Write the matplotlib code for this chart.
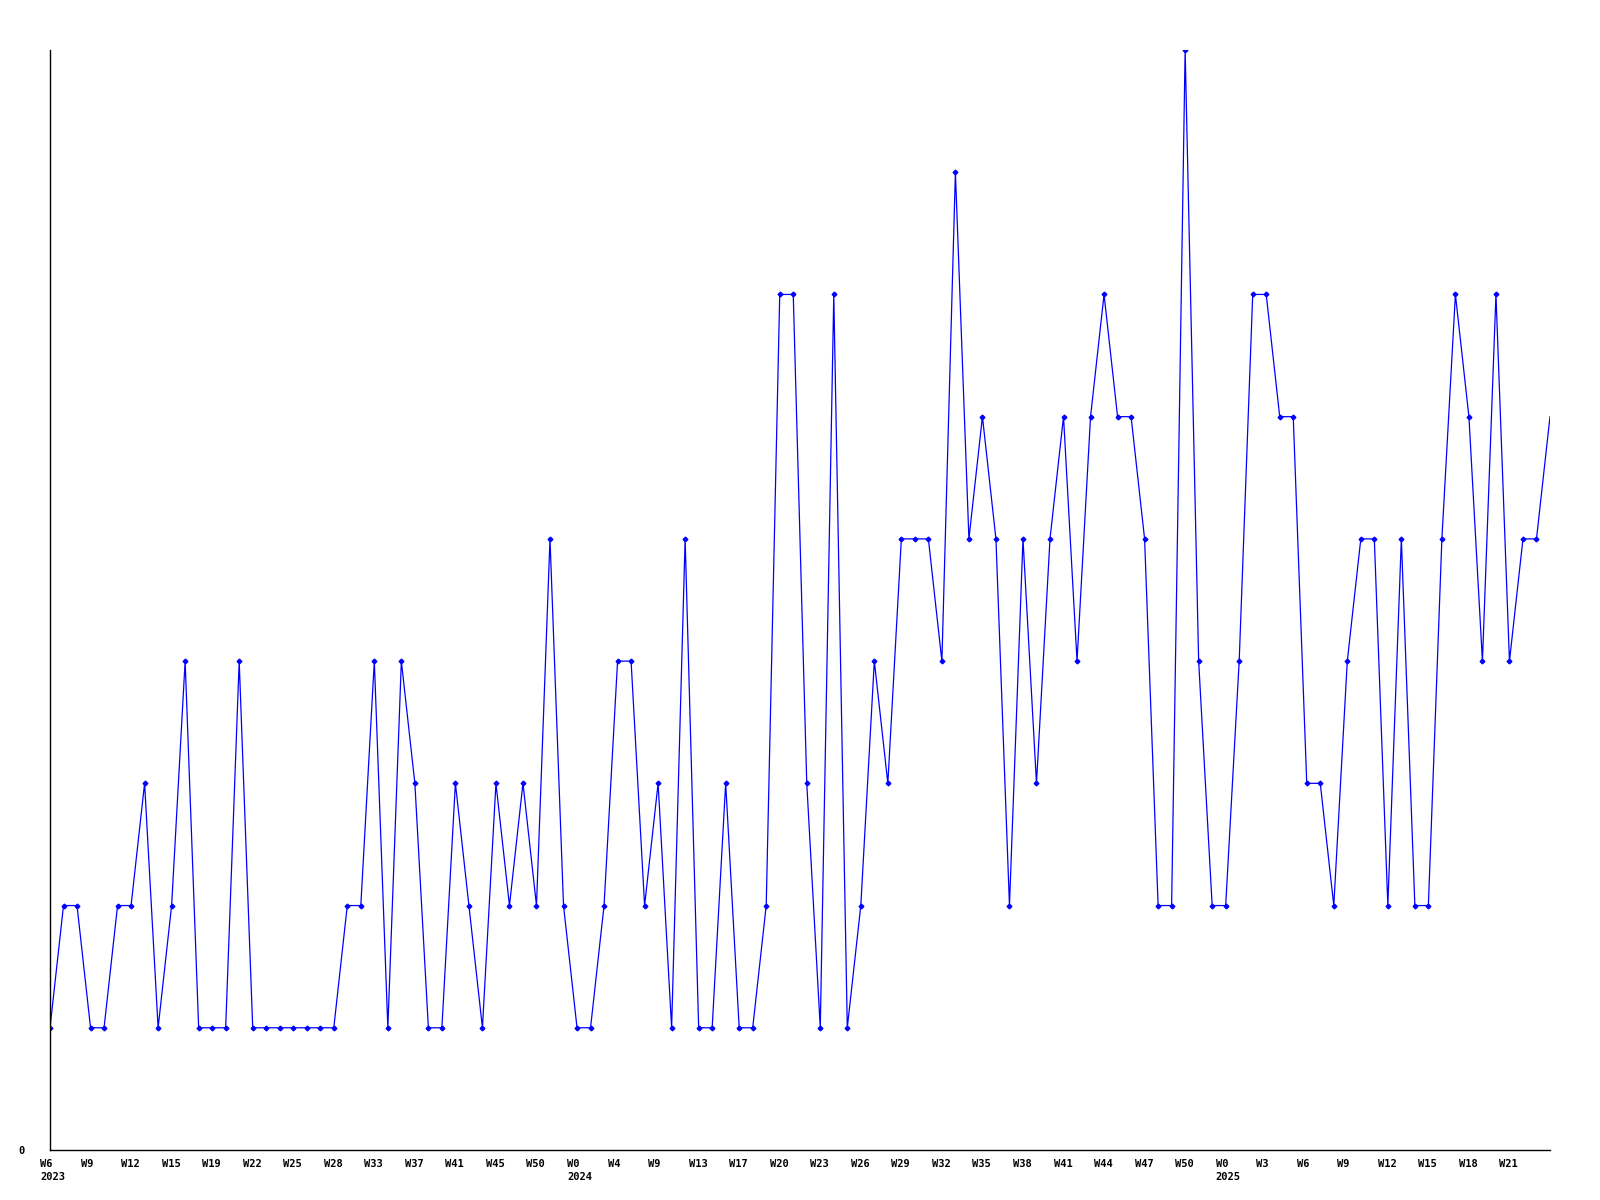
import matplotlib
matplotlib.use("Agg")
import matplotlib.pyplot as plt
from matplotlib.transforms import ScaledTranslation

# weekly counts (one value per plotted period)
values = [1, 2, 2, 1, 1, 2, 2, 3, 1, 2, 4, 1, 1, 1, 4, 1, 1, 1, 1, 1,
          1, 1, 2, 2, 4, 1, 4, 3, 1, 1, 3, 2, 1, 3, 2, 3, 2, 5, 2, 1,
          1, 2, 4, 4, 2, 3, 1, 5, 1, 1, 3, 1, 1, 2, 7, 7, 3, 1, 7, 1,
          2, 4, 3, 5, 5, 5, 4, 8, 5, 6, 5, 2, 5, 3, 5, 6, 4, 6, 7, 6,
          6, 5, 2, 2, 9, 4, 2, 2, 4, 7, 7, 6, 6, 3, 3, 2, 4, 5, 5, 2,
          5, 2, 2, 5, 7, 6, 4, 7, 4, 5, 5, 6]

# tick labels, one every 3 periods
tick_weeks = ["W6", "W9", "W12", "W15", "W19", "W22", "W25", "W28", "W33", "W37",
              "W41", "W45", "W50",
              "W0", "W4", "W9", "W13", "W17", "W20", "W23", "W26", "W29", "W32",
              "W35", "W38", "W41", "W44", "W47", "W50",
              "W0", "W3", "W6", "W9", "W12", "W15", "W18", "W21"]
tick_years = {0: "2023", 13: "2024", 29: "2025"}
tick_step = 3

fig = plt.figure(figsize=(16, 12), dpi=100)
ax = fig.add_axes([50/1600, 1 - 1150/1200, 1500/1600, 1100/1200])

x = list(range(len(values)))
ax.plot(x, values, color=(0, 0, 1), linewidth=0.9, marker="D", markersize=2.4,
        markevery=slice(0, len(values) - 1))

ax.set_xlim(0, len(values) - 1)
ax.set_ylim(0, 9)

for s in ["top", "right"]:
    ax.spines[s].set_visible(False)
for s in ["left", "bottom"]:
    ax.spines[s].set_color("black")
    ax.spines[s].set_linewidth(1.0)

font = dict(family="DejaVu Sans Mono", weight="bold", size=7.5)

ax.set_yticks([0])
ax.set_yticklabels(["0"], **font)
ax.tick_params(axis="y", length=0, pad=18)

pos = [i * tick_step for i in range(len(tick_weeks))]
labels = []
for i, w in enumerate(tick_weeks):
    if i in tick_years:
        labels.append(w + "\n" + tick_years[i])
    else:
        labels.append(w)
ax.set_xticks(pos)
ax.set_xticklabels(labels, ha="left", va="top", linespacing=1.35, **font)
ax.tick_params(axis="x", length=0, pad=6.5)
off = ScaledTranslation(-10 / 100, 0, fig.dpi_scale_trans)
for lab in ax.get_xticklabels():
    lab.set_transform(lab.get_transform() + off)

fig.savefig("out.png", dpi=100, facecolor="white")
